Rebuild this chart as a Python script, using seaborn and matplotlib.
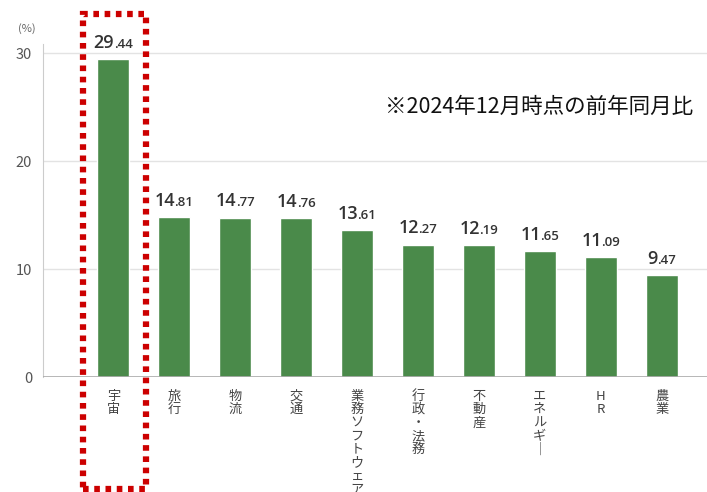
import numpy as np
import pandas as pd
import seaborn as sns
import matplotlib.pyplot as plt
from matplotlib.patches import Rectangle
from matplotlib.transforms import offset_copy

# ----------------------
# Data
# ----------------------
categories = ['宇宙', '旅行', '物流', '交通', '業務ソフトウェア', '行政・法務',
              '不動産', 'エネルギー', 'HR', '農業']
values = [29.44, 14.81, 14.77, 14.76, 13.61, 12.27, 12.19, 11.65, 11.09, 9.47]
yticks = [0, 10, 20, 30]
note = '※2024年12月時点の前年同月比'

# vertical writing: one character per line, long vowel mark turned upright
def vertical(s):
    return '\n'.join('｜' if c == 'ー' else c for c in s)

df = pd.DataFrame({'category': categories, 'value': values})

# ----------------------
# Style
# ----------------------
sns.set_style('white')
plt.rcParams['font.family'] = ['Noto Sans CJK JP', 'DejaVu Sans']

green = '#4a8a4a'
text_dark = '#333333'
tick_gray = '#555555'
num_font = ['Open Sans', 'DejaVu Sans']

fig = plt.figure(figsize=(7.07, 4.92), dpi=100)
ax = fig.add_axes([0.061, 0.2337, 0.939, 0.676])

sns.barplot(data=df, x='category', y='value', color=green, width=0.52,
            saturation=1, ax=ax, zorder=3)

ax.set_xlim(-1.15, 9.74)
ax.set_ylim(0, 30.8)
ax.set_yticks(yticks)
ax.set_yticklabels([str(t) for t in yticks], color=tick_gray, fontsize=10.5)
ax.set_xticks(range(len(categories)))
ax.set_xticklabels([vertical(c) for c in categories], color='#444444',
                   fontsize=9.5, linespacing=1.04, va='top')
ax.tick_params(axis='both', length=0)
ax.tick_params(axis='x', pad=9)
ax.tick_params(axis='y', pad=8)
ax.set_xlabel('')
ax.set_ylabel('')

for t in yticks[1:]:
    ax.axhline(t, color='#e3e3e3', lw=1, zorder=1)
for s in ['top', 'right', 'bottom']:
    ax.spines[s].set_visible(False)
ax.spines['left'].set_color('#cccccc')
ax.axhline(0, color='#aaaaaa', lw=1.2, zorder=4)

# value labels: large integer part, small decimal part, centred as a pair
fig.canvas.draw()
renderer = fig.canvas.get_renderer()
for i, v in enumerate(values):
    whole, dec = f'{v:.2f}'.split('.')
    t1 = ax.text(i, v, whole, ha='left', va='baseline', fontsize=13,
                 fontweight='semibold', color=text_dark, family=num_font,
                 transform=offset_copy(ax.transData, fig, 0, 8, units='points'))
    t2 = ax.text(i, v, '.' + dec, ha='left', va='baseline', fontsize=9.5,
                 fontweight='semibold', color=text_dark, family=num_font,
                 transform=offset_copy(ax.transData, fig, 0, 8, units='points'))
    w1 = t1.get_window_extent(renderer).width * 72 / fig.dpi
    w2 = t2.get_window_extent(renderer).width * 72 / fig.dpi
    start = -(w1 + w2) / 2
    t1.set_transform(offset_copy(ax.transData, fig, start, 8, units='points'))
    t2.set_transform(offset_copy(ax.transData, fig, start + w1 - 0.3, 8, units='points'))

fig.text(0.05, 0.935, '(%)', color='#666666', fontsize=8, ha='right')
fig.text(0.545, 0.7825, note, fontsize=15.5, color='#111111', ha='left', va='center')

# red dotted highlight around the first bar
rect = Rectangle((0.117, 0.006), 0.089, 0.966, transform=fig.transFigure,
                 fill=False, edgecolor='#cc0000', lw=4.5, linestyle=(0, (0.9, 0.9)),
                 clip_on=False)
fig.patches.append(rect)

plt.savefig('out.png', dpi=100)
plt.close()
